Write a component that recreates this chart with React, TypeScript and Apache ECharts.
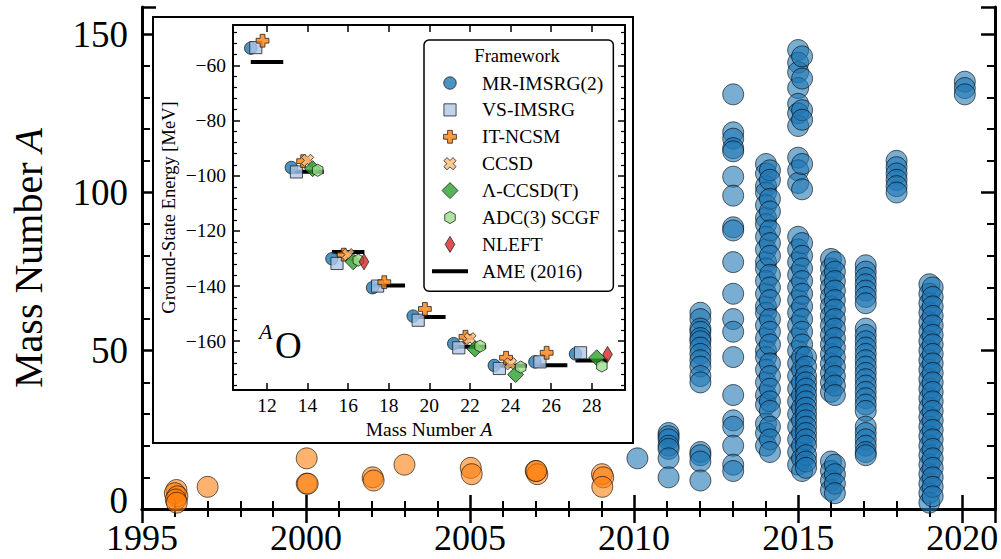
import { useEffect, useRef } from 'react';
import * as echarts from 'echarts';

const FONT = '"Liberation Serif", "Times New Roman", serif';

// ---------- main chart data (publication year, mass number A) ----------
const earlyYears = [1996.05, 1996.0, 1996.08, 1996.03, 1996.06, 1997.0, 2000.02, 2000.05, 2000.02, 2002.03, 2002.06, 2003.0, 2005.02, 2005.05, 2007.0, 2007.05, 2007.02, 2009.02, 2009.06, 2009.03];
const earlyMass = [6, 5, 4, 3, 2, 7, 8, 8, 16, 10, 9, 14, 13, 11, 12, 11, 12, 11, 10, 7];

const blue2010 = [16];
const blue2011 = [24, 23, 22, 20, 19, 16, 10];
const blue2012 = [62, 60, 57, 56, 54, 53, 51, 49, 47, 45, 42, 40, 18, 17, 15, 9];
const blue2013 = [131, 119, 117, 114, 113, 105, 99, 89, 88, 78, 68, 60, 56, 48, 36, 28, 26, 20, 14, 12];
const blue2014a = [109, 106, 102, 100, 96, 92, 90, 86, 82, 78, 76, 72, 68, 64, 62, 58, 54, 50, 48, 44, 40, 36, 33, 27, 24, 20];
const blue2014b = [107, 104, 98, 94, 88, 84, 80, 74, 70, 66, 60, 56, 52, 46, 42, 38, 34, 31, 26, 22, 18];
const blue2015a = [145, 141, 138, 133, 128, 125, 121, 111, 107, 103, 86, 82, 78, 74, 70, 66, 62, 58, 54, 50, 46, 42, 38, 34, 30, 26, 22, 18, 14];
const blue2015b = [143, 136, 126, 123, 109, 101, 84, 80, 76, 72, 68, 64, 60, 56, 52, 48, 44, 40, 36, 32, 28, 24, 20, 16, 12];
const blue2015c = [48, 45, 42, 40, 38, 36, 34, 32, 30, 28, 26, 24, 22, 20, 17, 15, 13];
const blue2016a = [79, 76, 73, 70, 67, 64, 61, 58, 55, 52, 49, 46, 43, 40, 37, 15, 12, 9, 6];
const blue2016b = [78, 75, 72, 69, 66, 63, 60, 57, 54, 51, 48, 45, 42, 39, 36, 14, 11, 8, 5];
const blue2017 = [77, 75, 73, 71, 69, 67, 65, 57, 55, 53, 51, 49, 47, 45, 43, 41, 39, 37, 35, 33, 31, 26, 24, 22, 20, 18, 17];
const blue2018 = [110, 108, 106, 104, 102, 100];
const blue2019a = [71, 68, 65, 62, 59, 56, 53, 50, 47, 44, 41, 38, 35, 32, 29, 26, 23, 20, 17, 14, 11, 8, 5, 2];
const blue2019b = [70, 67, 64, 61, 58, 55, 52, 49, 46, 43, 40, 37, 34, 31, 28, 25, 22, 19, 16, 13, 10, 7, 4];
const blue2020 = [135, 133, 131];

const blueColumns: [number, number[]][] = [
  [2010.1, blue2010],
  [2011.05, blue2011],
  [2012.02, blue2012],
  [2013.02, blue2013],
  [2014.02, blue2014a],
  [2014.14, blue2014b],
  [2015.0, blue2015a],
  [2015.12, blue2015b],
  [2015.24, blue2015c],
  [2016.0, blue2016a],
  [2016.12, blue2016b],
  [2017.06, blue2017],
  [2018.0, blue2018],
  [2019.0, blue2019a],
  [2019.1, blue2019b],
  [2020.08, blue2020],
];

const xTickLabels = ['1995', '2000', '2005', '2010', '2015', '2020'];
const yTickLabels = ['0', '50', '100', '150'];

// ---------- inset data (oxygen isotopes, ground-state energy MeV) ----------
const isoMR = [12, 14, 16, 18, 20, 22, 24, 26, 28];
const eMR = [-53.7, -97.0, -130.1, -140.6, -150.9, -160.9, -168.8, -167.5, -164.6];
const isoVS = [12, 14, 16, 18, 20, 22, 24, 26, 28];
const eVS = [-53.5, -98.6, -131.8, -140.0, -152.4, -162.4, -169.9, -167.5, -164.2];
const isoIT = [12, 14, 16, 18, 20, 22, 24, 26];
const eIT = [-51.0, -94.7, -128.6, -138.6, -148.3, -158.4, -166.0, -164.2];
const isoCC = [14, 16, 22, 24];
const eCC = [-94.4, -128.6, -159.1, -168.2];
const isoLam = [14, 16, 22, 24, 28];
const eLam = [-97.4, -131.2, -162.8, -172.1, -166.0];
const isoADC = [14, 16, 22, 24, 28];
const eADC = [-98.0, -130.6, -161.8, -169.4, -169.0];
const isoNL = [16, 28];
const eNL = [-131.2, -164.8];
const isoAME = [12, 14, 16, 18, 20, 22, 24, 26, 28];
const eAME = [-58.7, -98.5, -127.6, -139.8, -151.2, -162.0, -168.9, -168.7, -167.0];

// symbol shapes in a 100x100 frame (corner moveTo's fix the frame)
const FRAME = 'M0 0M100 100';
const SYM_CIRCLE = 'path://' + FRAME + 'M89 50A39 39 0 1 1 11 50A39 39 0 1 1 89 50Z';
const SYM_SQUARE = 'path://' + FRAME + 'M12 12H88V88H12Z';
const SYM_PLUS = 'path://' + FRAME + 'M35 10H65V35H90V65H65V90H35V65H10V35H35Z';
const SYM_X = 'path://' + FRAME + 'M68.4 11.8L88.2 31.6L69.8 50L88.2 68.4L68.4 88.2L50 69.8L31.6 88.2L11.8 68.4L30.2 50L11.8 31.6L31.6 11.8L50 30.2Z';
const SYM_DIAMOND = 'path://' + FRAME + 'M50 0L100 50L50 100L0 50Z';
const SYM_HEX = 'path://' + FRAME + 'M50 12L82.9 31L82.9 69L50 88L17.1 69L17.1 31Z';
const SYM_THIN = 'path://' + FRAME + 'M50 0L80 50L50 100L20 50Z';
const SYM_AME = 'path://M0 0M36 16M0 6H36V10H0Z';

const frameworks = [
  { name: 'MR-IMSRG(2)', iso: isoMR, e: eMR, dx: -0.8, symbol: SYM_CIRCLE, color: '#1f77b4' },
  { name: 'VS-IMSRG', iso: isoVS, e: eVS, dx: -0.55, symbol: SYM_SQUARE, color: '#aec7e8' },
  { name: 'IT-NCSM', iso: isoIT, e: eIT, dx: -0.22, symbol: SYM_PLUS, color: '#ff7f0e' },
  { name: 'CCSD', iso: isoCC, e: eCC, dx: 0.0, symbol: SYM_X, color: '#ffbb78' },
  { name: 'Λ-CCSD(T)', iso: isoLam, e: eLam, dx: 0.25, symbol: SYM_DIAMOND, color: '#2ca02c' },
  { name: 'ADC(3) SCGF', iso: isoADC, e: eADC, dx: 0.5, symbol: SYM_HEX, color: '#98df8a' },
  { name: 'NLEFT', iso: isoNL, e: eNL, dx: 0.78, symbol: SYM_THIN, color: '#d62728' },
];

function buildOption() {
  const earlyData = earlyYears.map((y, i) => [y, earlyMass[i]]);
  const blueData: number[][] = [];
  blueColumns.forEach(([yr, arr]) => arr.forEach((a) => blueData.push([yr, a])));

  const mainAxisLine = { show: true, lineStyle: { color: '#000', width: 3 } };
  const mainTick = { show: true, inside: true, length: 14, lineStyle: { color: '#000', width: 2.5 } };
  const mainMinor = { show: true, splitNumber: 5, length: 8, lineStyle: { color: '#000', width: 2 } };

  const inAxisLine = { show: true, lineStyle: { color: '#000', width: 2 } };
  const inTick = { show: true, inside: true, length: 7, lineStyle: { color: '#000', width: 1.5 } };
  const inMinor = { show: true, splitNumber: 5, length: 4, lineStyle: { color: '#000', width: 1.2 } };

  const X_MIN = 10.325, X_MAX = 29.64, Y_MIN = -177.7, Y_MAX = -45.3;

  const insetSeries: any[] = frameworks.map((f) => ({
    name: f.name,
    type: 'scatter',
    xAxisIndex: 2,
    yAxisIndex: 2,
    symbol: f.symbol,
    symbolSize: 16,
    z: 6,
    itemStyle: { color: f.color, opacity: 0.8, borderColor: '#222', borderWidth: 1 },
    data: f.iso.map((a, i) => [a + f.dx, f.e[i]]),
  }));

  const ameData: any[] = [];
  isoAME.forEach((a, i) => {
    ameData.push([a - 0.8, eAME[i]]);
    ameData.push([a + 0.8, eAME[i]]);
    ameData.push([a + 0.9, '-']);
  });

  insetSeries.push({
    name: 'AME (2016)',
    type: 'line',
    xAxisIndex: 2,
    yAxisIndex: 2,
    symbol: 'none',
    connectNulls: false,
    z: 5,
    color: '#000',
    lineStyle: { color: '#000', width: 4, cap: 'butt' },
    data: ameData,
  });

  return {
    animation: false,
    backgroundColor: '#fff',
    grid: [
      { left: 137, right: 4, top: 7, bottom: 50 },
      { left: 233, top: 25, width: 392, height: 365 },
    ],
    xAxis: [
      {
        type: 'value', gridIndex: 0, position: 'bottom', min: 1995, max: 2021, interval: 5,
        axisLine: mainAxisLine, axisTick: mainTick, minorTick: mainMinor, splitLine: { show: false },
        axisLabel: {
          color: '#000', fontFamily: FONT, fontSize: 36, lineHeight: 36, margin: 11,
          formatter: (v: number) => (xTickLabels.includes(String(v)) ? String(v) : ''),
        },
      },
      {
        type: 'value', gridIndex: 0, position: 'top', min: 1995, max: 2021, interval: 5,
        axisLine: mainAxisLine, axisTick: mainTick, minorTick: mainMinor, splitLine: { show: false },
        axisLabel: { show: false },
      },
      {
        type: 'value', gridIndex: 1, position: 'bottom', min: X_MIN, max: X_MAX, splitNumber: 10, z: 3,
        axisLine: inAxisLine, axisTick: inTick, splitLine: { show: false },
        axisLabel: {
          color: '#000', fontFamily: FONT, fontSize: 19.5, margin: 5,
          formatter: (v: number) => (Number.isInteger(v) && v % 2 === 0 ? String(v) : ''),
        },
        name: 'Mass Number {i|A}', nameLocation: 'middle', nameGap: 27,
        nameTextStyle: {
          color: '#000', fontFamily: FONT, fontSize: 19.5,
          rich: { i: { fontFamily: FONT, fontSize: 19.5, fontStyle: 'italic', color: '#000' } },
        },
      },
      {
        type: 'value', gridIndex: 1, position: 'top', min: X_MIN, max: X_MAX, splitNumber: 10, z: 3,
        axisLine: inAxisLine, axisTick: inTick, splitLine: { show: false }, axisLabel: { show: false },
      },
    ],
    yAxis: [
      {
        type: 'value', gridIndex: 0, position: 'left', min: 0, max: 158.6, interval: 50,
        axisLine: mainAxisLine, axisTick: mainTick, minorTick: mainMinor, splitLine: { show: false },
        axisLabel: {
          color: '#000', fontFamily: FONT, fontSize: 37, lineHeight: 37, margin: 14,
          formatter: (v: number) => {
            const s = String(v);
            if (!yTickLabels.includes(s)) return '';
            return v === 0 ? '{zero|0}' : s;
          },
          rich: {
            zero: { color: '#000', fontFamily: FONT, fontSize: 37, lineHeight: 37, padding: [0, 0, 18, 0] },
          },
        },
        name: 'Mass Number {i|A}', nameLocation: 'middle', nameGap: 94,
        nameTextStyle: {
          color: '#000', fontFamily: FONT, fontSize: 40,
          rich: { i: { fontFamily: FONT, fontSize: 40, fontStyle: 'italic', color: '#000' } },
        },
      },
      {
        type: 'value', gridIndex: 0, position: 'right', min: 0, max: 158.6, interval: 50,
        axisLine: mainAxisLine, axisTick: mainTick, minorTick: mainMinor, splitLine: { show: false },
        axisLabel: { show: false },
      },
      {
        type: 'value', gridIndex: 1, position: 'left', min: Y_MIN, max: Y_MAX, splitNumber: 7, z: 3,
        axisLine: inAxisLine, axisTick: inTick, minorTick: inMinor, splitLine: { show: false },
        axisLabel: {
          color: '#000', fontFamily: FONT, fontSize: 19.5, margin: 7,
          formatter: (v: number) => (Number.isInteger(v) && v % 20 === 0 ? String(v).replace('-', '\u2212') : ''),
        },
        name: 'Ground-State Energy [MeV]', nameLocation: 'middle', nameGap: 55,
        nameTextStyle: { color: '#000', fontFamily: FONT, fontSize: 18.5 },
      },
      {
        type: 'value', gridIndex: 1, position: 'right', min: Y_MIN, max: Y_MAX, splitNumber: 7, z: 3,
        axisLine: inAxisLine, axisTick: inTick, minorTick: inMinor, splitLine: { show: false }, axisLabel: { show: false },
      },
    ],
    legend: {
      orient: 'vertical',
      left: 424,
      top: 40,
      padding: [33, 10, 10, 8],
      itemWidth: 36,
      itemHeight: 16,
      itemGap: 6.9,
      selectedMode: false,
      symbolKeepAspect: true,
      backgroundColor: '#fff',
      borderColor: '#000',
      borderWidth: 1.5,
      borderRadius: 5,
      z: 10,
      itemStyle: { borderWidth: 1 },
      textStyle: { color: '#000', fontFamily: FONT, fontSize: 19.5, padding: [0, 0, 0, 9] },
      data: [
        ...frameworks.map((f) => ({ name: f.name, icon: f.symbol })),
        { name: 'AME (2016)', icon: SYM_AME, itemStyle: { color: '#000', borderWidth: 0, opacity: 1 } },
      ],
    },
    graphic: [
      {
        type: 'rect', z: 1,
        shape: { x: 153, y: 17, width: 480, height: 426 },
        style: { fill: '#fff', stroke: '#000', lineWidth: 2 },
      },
      {
        type: 'text', z: 20, x: 517, y: 56,
        style: { text: 'Framework', font: `18.5px ${FONT}`, fill: '#000', textAlign: 'center', textVerticalAlign: 'middle' },
      },
      {
        type: 'text', z: 20, x: 259, y: 331,
        style: { text: 'A', font: `italic 22px ${FONT}`, fill: '#000', textAlign: 'left', textVerticalAlign: 'middle' },
      },
      {
        type: 'text', z: 20, x: 275, y: 345,
        style: { text: 'O', font: `37px ${FONT}`, fill: '#000', textAlign: 'left', textVerticalAlign: 'middle' },
      },
    ],
    series: [
      {
        name: 'before 2010', type: 'scatter', xAxisIndex: 0, yAxisIndex: 0, symbol: 'circle', symbolSize: 21, z: 2,
        itemStyle: { color: '#ff7f0e', opacity: 0.6, borderColor: '#000', borderWidth: 1 },
        data: earlyData,
      },
      {
        name: 'since 2010', type: 'scatter', xAxisIndex: 0, yAxisIndex: 0, symbol: 'circle', symbolSize: 21, z: 2,
        itemStyle: { color: '#1f77b4', opacity: 0.6, borderColor: '#000', borderWidth: 1 },
        data: blueData,
      },
      ...insetSeries,
    ],
  };
}

export default function App() {
  const ref = useRef<HTMLDivElement>(null);
  useEffect(() => {
    if (!ref.current) return;
    const chart = echarts.init(ref.current, null, { renderer: 'svg' });
    chart.setOption(buildOption() as any);
    return () => chart.dispose();
  }, []);
  return <div ref={ref} style={{ position: 'fixed', left: 0, top: 0, width: 1001, height: 559 }} />;
}
